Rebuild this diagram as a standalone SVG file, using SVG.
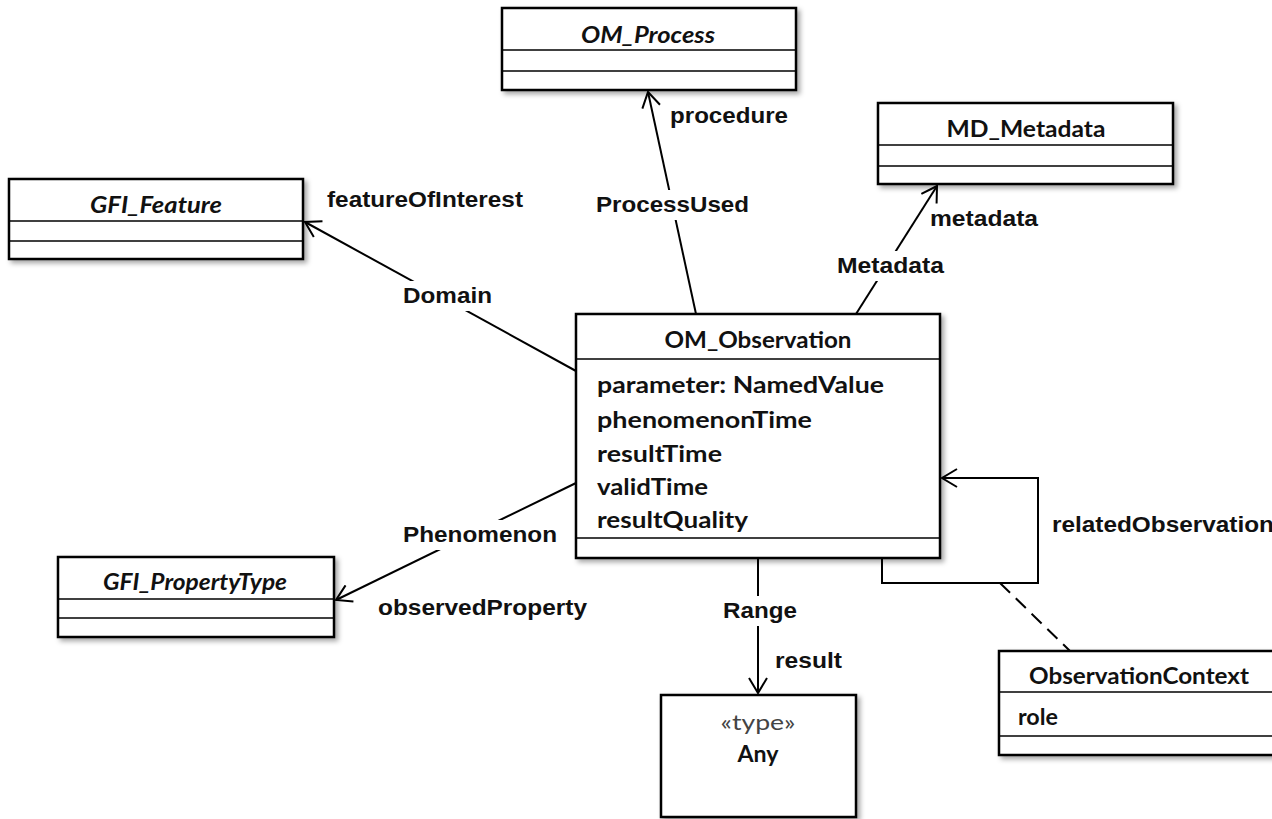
<svg xmlns="http://www.w3.org/2000/svg" width="1272" height="819" viewBox="0 0 1272 819">
<style>
.box{fill:#fff;stroke:#000;stroke-width:2.5}
.sep{stroke:#000;stroke-width:1.3}
.cn{font-family:Lato,"Open Sans",sans-serif;font-weight:bold;font-size:22px;fill:#111}
.cni{font-family:Lato,"Open Sans",sans-serif;font-weight:bold;font-style:italic;font-size:22px;fill:#111}
.at{font-family:Lato,"Open Sans",sans-serif;font-weight:bold;font-size:22px;fill:#111}
.st{font-family:Lato,"Open Sans",sans-serif;font-size:22px;fill:#444}
.lb{font-family:"Liberation Sans",Arial,sans-serif;font-weight:bold;font-size:22px;fill:#111}
.ln{fill:none;stroke:#000;stroke-width:2}
.bg{fill:#fff}
</style>
<defs>
<filter id="sh" x="-10%" y="-10%" width="130%" height="130%">
<feDropShadow dx="3" dy="3" stdDeviation="2.5" flood-color="#000" flood-opacity="0.35"/>
</filter>
<marker id="open" viewBox="0 0 18 20" refX="16" refY="10" markerWidth="18" markerHeight="20" markerUnits="userSpaceOnUse" orient="auto">
<path d="M1,1 L16,10 L1,19" fill="none" stroke="#000" stroke-width="2"/>
</marker>
</defs>

<g id="connectors">
<line class="ln" x1="696" y1="314" x2="648" y2="92" marker-end="url(#open)"/>
<line class="ln" x1="576" y1="371" x2="305" y2="222" marker-end="url(#open)"/>
<line class="ln" x1="856" y1="314" x2="937" y2="186" marker-end="url(#open)"/>
<line class="ln" x1="576" y1="483" x2="336" y2="600" marker-end="url(#open)"/>
<line class="ln" x1="758" y1="558" x2="758" y2="693" marker-end="url(#open)"/>
<path class="ln" d="M882,558 V583 H1038 V478 H942" marker-end="url(#open)"/>
<line class="ln" x1="1000" y1="583" x2="1070" y2="651" stroke-dasharray="14,8"/>
<rect class="bg" x="590" y="190" width="166" height="30"/>
<text class="lb" x="596" y="212" textLength="153" lengthAdjust="spacingAndGlyphs">ProcessUsed</text>
<text class="lb" x="670" y="123" textLength="118" lengthAdjust="spacingAndGlyphs">procedure</text>
<rect class="bg" x="397" y="281" width="102" height="30"/>
<text class="lb" x="403" y="303" textLength="89" lengthAdjust="spacingAndGlyphs">Domain</text>
<text class="lb" x="327" y="207" textLength="196" lengthAdjust="spacingAndGlyphs">featureOfInterest</text>
<rect class="bg" x="831" y="251" width="120" height="30"/>
<text class="lb" x="837" y="273" textLength="107" lengthAdjust="spacingAndGlyphs">Metadata</text>
<text class="lb" x="930" y="226" textLength="108" lengthAdjust="spacingAndGlyphs">metadata</text>
<rect class="bg" x="397" y="520" width="166" height="30"/>
<text class="lb" x="403" y="542" textLength="154" lengthAdjust="spacingAndGlyphs">Phenomenon</text>
<text class="lb" x="378" y="615" textLength="209" lengthAdjust="spacingAndGlyphs">observedProperty</text>
<rect class="bg" x="718" y="596" width="84" height="30"/>
<text class="lb" x="723" y="618" textLength="74" lengthAdjust="spacingAndGlyphs">Range</text>
<text class="lb" x="775" y="668" textLength="67" lengthAdjust="spacingAndGlyphs">result</text>
<text class="lb" x="1052" y="532" textLength="222" lengthAdjust="spacingAndGlyphs">relatedObservation</text>
</g>

<g id="OM_Process">
<rect class="box" x="502" y="8" width="294" height="82" filter="url(#sh)"/>
<line class="sep" x1="502" y1="50" x2="796" y2="50"/>
<line class="sep" x1="502" y1="71" x2="796" y2="71"/>
<text class="cni" x="648" y="43" text-anchor="middle" textLength="134" lengthAdjust="spacingAndGlyphs">OM_Process</text>
</g>

<g id="GFI_Feature">
<rect class="box" x="9" y="179" width="294" height="80" filter="url(#sh)"/>
<line class="sep" x1="9" y1="221" x2="303" y2="221"/>
<line class="sep" x1="9" y1="241" x2="303" y2="241"/>
<text class="cni" x="156" y="213" text-anchor="middle" textLength="132" lengthAdjust="spacingAndGlyphs">GFI_Feature</text>
</g>

<g id="MD_Metadata">
<rect class="box" x="878" y="103" width="295" height="81" filter="url(#sh)"/>
<line class="sep" x1="878" y1="145" x2="1173" y2="145"/>
<line class="sep" x1="878" y1="166" x2="1173" y2="166"/>
<text class="cn" x="1026" y="137" text-anchor="middle" textLength="159" lengthAdjust="spacingAndGlyphs">MD_Metadata</text>
</g>

<g id="OM_Observation">
<rect class="box" x="576" y="314" width="364" height="244" filter="url(#sh)"/>
<line class="sep" x1="576" y1="359" x2="940" y2="359"/>
<line class="sep" x1="576" y1="538" x2="940" y2="538"/>
<text class="cn" x="758" y="348" text-anchor="middle" textLength="187" lengthAdjust="spacingAndGlyphs">OM_Observation</text>
<text class="at" x="597" y="393" textLength="287" lengthAdjust="spacingAndGlyphs">parameter: NamedValue</text>
<text class="at" x="597" y="428" textLength="215" lengthAdjust="spacingAndGlyphs">phenomenonTime</text>
<text class="at" x="597" y="462" textLength="125" lengthAdjust="spacingAndGlyphs">resultTime</text>
<text class="at" x="597" y="495" textLength="111" lengthAdjust="spacingAndGlyphs">validTime</text>
<text class="at" x="597" y="528" textLength="151" lengthAdjust="spacingAndGlyphs">resultQuality</text>
</g>

<g id="GFI_PropertyType">
<rect class="box" x="58" y="557" width="276" height="80" filter="url(#sh)"/>
<line class="sep" x1="58" y1="599" x2="334" y2="599"/>
<line class="sep" x1="58" y1="618" x2="334" y2="618"/>
<text class="cni" x="195" y="590" text-anchor="middle" textLength="184" lengthAdjust="spacingAndGlyphs">GFI_PropertyType</text>
</g>

<g id="Any">
<rect class="box" x="661" y="695" width="195" height="122" filter="url(#sh)"/>
<text class="st" x="758" y="730" text-anchor="middle" textLength="75" lengthAdjust="spacingAndGlyphs">«type»</text>
<text class="cn" x="758" y="762" text-anchor="middle" textLength="41" lengthAdjust="spacingAndGlyphs">Any</text>
</g>

<g id="ObservationContext">
<rect class="box" x="999" y="651" width="290" height="104" filter="url(#sh)"/>
<line class="sep" x1="999" y1="692" x2="1272" y2="692"/>
<line class="sep" x1="999" y1="736" x2="1272" y2="736"/>
<text class="cn" x="1139" y="684" text-anchor="middle" font-size="20" textLength="220" lengthAdjust="spacingAndGlyphs">ObservationContext</text>
<text class="at" x="1018" y="725" font-size="19" textLength="40" lengthAdjust="spacingAndGlyphs">role</text>
</g>
</svg>
